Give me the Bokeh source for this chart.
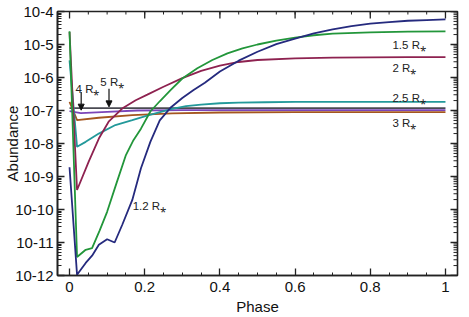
import numpy as np
from bokeh.plotting import figure
from bokeh.models import (Range1d, FixedTicker, CustomJSTickFormatter, Label, Arrow, NormalHead)
from bokeh.embed import file_html
from bokeh.resources import INLINE

FONT = "Liberation Sans"

# ---------------- data (phase, log10 abundance) ----------------
phase_12 = [0.0, 0.02, 0.043, 0.06, 0.078, 0.10, 0.12, 0.14, 0.167, 0.19, 0.215, 0.24,
            0.27, 0.30, 0.33, 0.36, 0.40, 0.45, 0.50, 0.55, 0.60, 0.65, 0.70, 0.75,
            0.80, 0.85, 0.90, 0.95, 1.0]
logab_12 = [-8.72, -11.98, -11.62, -11.40, -11.07, -10.90, -11.00, -10.47, -9.71, -8.75,
            -7.95, -7.3, -6.9, -6.62, -6.38, -6.16, -5.82, -5.49, -5.22, -4.99, -4.82,
            -4.66, -4.54, -4.44, -4.37, -4.32, -4.28, -4.26, -4.24]

phase_15 = [0.0, 0.02, 0.043, 0.06, 0.08, 0.10, 0.125, 0.15, 0.17, 0.19, 0.215, 0.24,
            0.27, 0.30, 0.34, 0.38, 0.42, 0.46, 0.50, 0.55, 0.60, 0.65, 0.70, 0.80,
            0.90, 1.0]
logab_15 = [-4.6, -11.44, -11.22, -11.17, -10.64, -10.07, -9.2, -8.35, -7.9, -7.55,
            -7.03, -6.72, -6.37, -6.03, -5.72, -5.47, -5.27, -5.12, -5.0, -4.88, -4.79,
            -4.72, -4.67, -4.63, -4.61, -4.60]

phase_2 = [0.0, 0.02, 0.051, 0.078, 0.104, 0.14, 0.176, 0.207, 0.25, 0.30, 0.35, 0.40,
           0.45, 0.50, 0.60, 0.70, 0.80, 0.90, 1.0]
logab_2 = [-4.62, -9.41, -8.55, -7.85, -7.34, -6.94, -6.69, -6.52, -6.28, -6.02, -5.8,
           -5.64, -5.53, -5.47, -5.42, -5.40, -5.39, -5.38, -5.38]

phase_25 = [0.0, 0.02, 0.043, 0.078, 0.122, 0.167, 0.211, 0.273, 0.31, 0.35, 0.40, 0.45,
            0.52, 0.6, 0.8, 1.0]
logab_25 = [-5.48, -8.1, -7.95, -7.7, -7.44, -7.29, -7.14, -6.95, -6.87, -6.82, -6.78,
            -6.76, -6.75, -6.74, -6.74, -6.74]

phase_3 = [0.0, 0.02, 0.078, 0.167, 0.273, 0.4, 0.6, 1.0]
logab_3 = [-6.74, -7.29, -7.22, -7.14, -7.09, -7.06, -7.05, -7.05]

phase_4 = [0.0, 0.03, 0.1, 0.18, 0.3, 0.5, 1.0]
logab_4 = [-7.02, -7.08, -7.04, -7.0, -6.99, -6.99, -6.99]

phase_5 = [0.0, 1.0]
logab_5 = [-6.93, -6.93]

x_major = [0.0, 0.2, 0.4, 0.6, 0.8, 1.0]
y_exps = [-12, -11, -10, -9, -8, -7, -6, -5, -4]

X0, X1 = -0.032, 1.032

# ---------------- figure ----------------
p = figure(width=469, height=317, output_backend="svg", toolbar_location=None,
           y_axis_type="log", x_range=Range1d(X0, X1),
           y_range=Range1d(10.0 ** y_exps[0], 10.0 ** y_exps[-1]),
           min_border_left=57, min_border_right=12, min_border_top=11, min_border_bottom=41)
p.outline_line_color = "#222222"
p.outline_line_width = 1.6
p.grid.visible = False
p.background_fill_color = "white"
p.border_fill_color = "white"

x_minor = [round(0.05 * k, 2) for k in range(0, 21)]
y_major = [10.0 ** e for e in y_exps]
y_minor = [m * 10.0 ** e for e in y_exps[:-1] for m in range(2, 10)]

xt = FixedTicker(ticks=x_major, minor_ticks=x_minor)
yt = FixedTicker(ticks=y_major, minor_ticks=y_minor)
yfmt = CustomJSTickFormatter(code="return '10' + Math.round(Math.log10(tick));")
xfmt = CustomJSTickFormatter(code="return (Math.abs(tick-1)<1e-9) ? '1' : ((Math.abs(tick)<1e-9) ? '0' : tick.toFixed(1));")

def style_axis(ax, minor_in):
    ax.axis_line_color = "#222222"
    ax.axis_line_width = 1.6
    ax.major_tick_line_color = "#222222"
    ax.minor_tick_line_color = "#222222"
    ax.major_tick_line_width = 1.3
    ax.minor_tick_line_width = 1.0
    ax.major_tick_in = 7
    ax.major_tick_out = 0
    ax.minor_tick_in = minor_in
    ax.minor_tick_out = 0
    ax.major_label_text_font = FONT
    ax.major_label_text_font_size = "15px"
    ax.major_label_text_color = "#111111"
    ax.axis_label_text_font = FONT
    ax.axis_label_text_font_size = "15px"
    ax.axis_label_text_font_style = "normal"
    ax.axis_label_text_color = "#111111"

xa = p.xaxis[0]
xa.ticker = xt
xa.formatter = xfmt
style_axis(xa, 3)
xa.major_label_standoff = 6
xa.axis_label = "Phase"
xa.axis_label_standoff = 3

ya = p.yaxis[0]
ya.ticker = yt
ya.formatter = yfmt
style_axis(ya, 4)
ya.major_label_standoff = 4
ya.axis_label = "Abundance"
ya.axis_label_standoff = -9

# mirrored inward ticks on the top and right edges (half of each dash is clipped by the frame)
tick_col = "#222222"
p.scatter(x_major, [10.0 ** y_exps[-1]] * len(x_major), marker="dash", size=14,
          angle=np.pi / 2, line_color=tick_col, line_width=1.3)
p.scatter(x_minor, [10.0 ** y_exps[-1]] * len(x_minor), marker="dash", size=6,
          angle=np.pi / 2, line_color=tick_col, line_width=1.0)
p.scatter([X1] * len(y_major), y_major, marker="dash", size=14,
          line_color=tick_col, line_width=1.3)
p.scatter([X1] * len(y_minor), y_minor, marker="dash", size=8,
          line_color=tick_col, line_width=1.0)

# ---------------- curves ----------------
series = [
    (phase_5, logab_5, "#4a4a52"),
    (phase_4, logab_4, "#7b45b8"),
    (phase_3, logab_3, "#a4561f"),
    (phase_25, logab_25, "#23999a"),
    (phase_2, logab_2, "#8e2250"),
    (phase_15, logab_15, "#22963a"),
    (phase_12, logab_12, "#252a7e"),
]
for ph, lg, col in series:
    p.line(ph, (10.0 ** np.array(lg)).tolist(), line_color=col, line_width=1.8)

# ---------------- annotations ----------------
STAR = "R\u204e"
labels = [
    ("1.5 " + STAR, 0.859, -5.0),
    ("2 " + STAR, 0.859, -5.72),
    ("2.5 " + STAR, 0.859, -6.62),
    ("3 " + STAR, 0.859, -7.38),
    ("1.2 " + STAR, 0.168, -9.9),
    ("4 " + STAR, 0.016, -6.35),
    ("5 " + STAR, 0.082, -6.14),
]
for txt, lx, ly in labels:
    p.add_layout(Label(x=lx, y=10.0 ** ly, text=txt, text_font=FONT,
                       text_font_size="11.5px", text_color="#222222",
                       text_baseline="alphabetic", text_align="left"))

for ax_, y0, y1 in [(0.031, -6.44, -6.99), (0.105, -6.34, -6.89)]:
    p.add_layout(Arrow(end=NormalHead(size=6, fill_color="#111111", line_color="#111111"),
                       x_start=ax_, y_start=10.0 ** y0, x_end=ax_, y_end=10.0 ** y1,
                       line_color="#111111", line_width=1.2))

open("out.html", "w").write(file_html(p, INLINE))
